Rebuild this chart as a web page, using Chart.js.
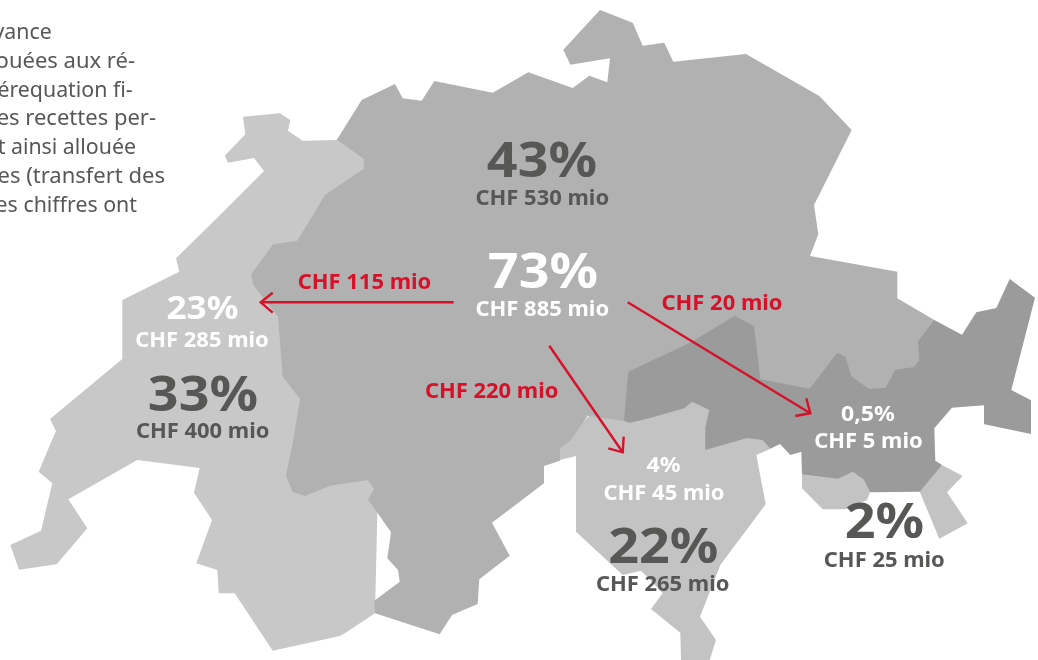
<!DOCTYPE html>
<html>
<head>
<meta charset="utf-8">
<style>
html, body { margin: 0; padding: 0; background: #fff; }
#wrap { width: 1038px; height: 660px; }
</style>
<script src="https://cdn.jsdelivr.net/npm/chart.js@4"></script>
</head>
<body>
<div id="wrap"><canvas id="map"></canvas></div>
<script>
// region outlines, in picture units
var west = [[243,116.7],[280,113.3],[290.3,120],[288,130.7],[302.7,140.7],[336.7,140],[363.3,159],[363.3,169],[380,400],[375,613.3],[346,632.5],[340,636],[272.7,650.7],[234.7,593.3],[218.7,593.3],[217.3,570],[196.3,563.3],[212,520],[194,492.7],[199.7,468],[137.3,460],[68.3,499.3],[87.3,528.3],[56.7,564.3],[19,569.7],[10.3,545],[41,530.7],[52.3,483.3],[38.7,471.7],[52,440],[56,431],[50,419],[122.3,359],[122.3,300],[179.3,271.7],[176,258.3],[215,220],[264,171],[254,158],[228,162.7],[224.7,155.7],[245.3,134.3]];
var ticino = [[600,405],[720,395],[770,420],[770,449],[756.3,455],[765.7,504.3],[720.3,565],[700,616.7],[716,640],[709.7,660],[681,660],[680.3,632.7],[651,609],[662.7,593],[641,570.7],[622.7,575],[576,531.7],[576,456],[556,461],[556,448],[570,435]];
var bregaglia = [[802,460],[870,470],[870,492],[867,500],[845.3,509.3],[822.7,509.3],[802,488.3]];
var poschiavo = [[915,480],[942,465],[962.7,476],[947,492.3],[967.7,523.3],[939.3,538.7],[919.7,491.7]];
var central = [[336.7,140],[361.7,100],[395,84],[402.7,98.3],[421.7,100.7],[434.3,81],[492.7,92.7],[528.3,72.3],[572.7,88],[589.3,75.7],[607.3,82.3],[610,58.3],[570.3,64.7],[563.3,49.7],[600,10],[632.7,22.7],[642.7,45.7],[664.3,42.7],[673.3,61.7],[746,54],[819.3,96],[851.7,130],[814,205],[818.3,234.3],[810,256],[897.3,271.7],[897.3,298.3],[934.3,320],[930,400],[700,400],[640,415],[624,421],[587.7,415.7],[570,441],[560,448],[560,460.7],[544,466],[544,483.3],[492,522.7],[509.7,555.7],[479.3,579.3],[477.7,604],[452,615],[439.7,634.3],[375,613.3],[374.3,600.7],[399.7,581.7],[398,570],[387.3,558.3],[391,532.3],[368,499.3],[374,489.3],[368,480],[330,485.7],[305,496],[292.3,491.7],[286,475],[293.3,440],[300,399],[282.7,376.7],[278,316.7],[253.3,285],[251,274.3],[273.3,244.3],[297.3,240.7],[325,195],[363.3,169],[363.3,159]];
var east = [[628.3,371.7],[691,342.3],[734.7,315.7],[754,326],[760.3,379.3],[809.7,388.7],[837.3,352.7],[845.7,357],[851,376],[869,389],[885.7,387.7],[895.3,369.7],[913.3,367.3],[919.3,360.7],[918,341],[934.3,320],[962,334.7],[976.3,312.3],[996.3,308],[1009.7,279],[1035,297.7],[1011.3,390],[1031,400.3],[1031,434],[984.3,424.3],[984,405.3],[952,407.7],[934.3,428.3],[935.3,460.7],[942,465],[919.7,491.7],[870.3,492.3],[863.7,479.3],[852.7,471.7],[838,478.7],[802,474.3],[801.3,451.7],[790.3,455],[780,444],[770.3,448.7],[762.7,440],[747,438],[705.3,450],[705.3,428],[709.3,410],[692,401.7],[684.3,408.3],[649.3,418.3],[629.7,422.7],[624,421]];

// flows between the regions
var flowWest = [[453.7,302.3],[260.7,302.3]];
var flowWestHead = [[272.7,292.7],[260.7,302.3],[272.7,312.7]];
var flowEast = [[627.7,302.3],[810.3,413.3]];
var flowEastHead = [[806.3,398.3],[810.3,413.3],[795.3,416]];
var flowSouth = [[549.3,345.7],[622.7,452.3]];
var flowSouthHead = [[623.7,436.7],[622.7,452.3],[608.3,448.3]];

// labels
var bigLabels = ["43%", "33%", "22%", "2%", "73%"];
var bigX = [542, 203, 663.3, 884.5, 543];
var bigY = [176.7, 411, 562.7, 538.3, 287.7];
var midLabels = ["23%"];
var midX = [202.5];
var midY = [319];
var smallLabels = ["4%", "0,5%"];
var smallX = [663.5, 868];
var smallY = [471.7, 421];
var amountLabels = ["CHF 530 mio", "CHF 400 mio", "CHF 265 mio", "CHF 25 mio", "CHF 885 mio", "CHF 285 mio", "CHF 45 mio", "CHF 5 mio"];
var amountX = [542.3, 202.7, 662.7, 884.3, 542.3, 202, 664, 868.5];
var amountY = [205.3, 438.3, 590.7, 566.7, 316, 346.7, 500, 448.3];
var flowLabels = ["CHF 115 mio", "CHF 20 mio", "CHF 220 mio"];
var flowX = [364.5, 722, 491.7];
var flowY = [289, 310, 397.7];
var bodyLines = ["vance", "ouées aux ré-", "érequation fi-", "es recettes per-", "t ainsi allouée", "es (transfert des", "es chiffres ont"];
var bodyX = [51.7, 135, 132.7, 156, 136, 165, 137];
var bodyY = [39.3, 68.3, 96.5, 125, 153.7, 182.7, 211.7];
var bodyStretch = [0.97, 1, 0.97, 1, 0.97, 1, 0.97];

var grey = "#575756", red = "#d5122a";

function toPoints(list) {
	var pts = [];
	for (var i = 0; i < list.length; i++) {
		pts.push({x: list[i][0], y: list[i][1]});
	}
	pts.push({x: list[0][0], y: list[0][1]});
	return pts;
}

function area(list, color) {
	return {
		data: toPoints(list),
		showLine: true,
		fill: "shape",
		backgroundColor: color,
		borderColor: color,
		borderWidth: 0,
		pointRadius: 0,
		tension: 0
	};
}

function flow(list) {
	return {
		data: list.map(function(p){ return {x: p[0], y: p[1]}; }),
		showLine: true,
		fill: false,
		borderColor: red,
		borderWidth: 2.4,
		pointRadius: 0,
		tension: 0
	};
}

// writes all the text through the scales, stretched a little to the width of the original face
var textPlugin = {
	id: "mapText",
	afterDatasetsDraw: function(chart) {
		var ctx = chart.ctx, sx = chart.scales.x, sy = chart.scales.y;
		function put(labels, xs, ys, font, color, align, stretch) {
			for (var i = 0; i < labels.length; i++) {
				ctx.save();
				ctx.font = font;
				ctx.fillStyle = color;
				ctx.textAlign = align;
				ctx.textBaseline = "alphabetic";
				ctx.translate(sx.getPixelForValue(xs[i]), sy.getPixelForValue(ys[i]));
				ctx.scale(Array.isArray(stretch) ? stretch[i] : stretch, 1);
				ctx.fillText(labels[i], 0, 0);
				ctx.restore();
			}
		}
		var face = '"Noto Sans", sans-serif';
		put(bodyLines, bodyX, bodyY, '400 22px ' + face, grey, "right", bodyStretch);
		put(bigLabels.slice(0, 4), bigX, bigY, '700 49px ' + face, grey, "center", 1.1);
		put(bigLabels.slice(4), bigX.slice(4), bigY.slice(4), '700 49px ' + face, "#fff", "center", 1.1);
		put(midLabels, midX, midY, '700 32px ' + face, "#fff", "center", 1.1);
		put(smallLabels, smallX, smallY, '700 21px ' + face, "#fff", "center", 1.1);
		put(amountLabels.slice(0, 4), amountX, amountY, '700 20.5px ' + face, grey, "center", 1.07);
		put(amountLabels.slice(4), amountX.slice(4), amountY.slice(4), '700 20.5px ' + face, "#fff", "center", 1.07);
		put(flowLabels, flowX, flowY, '700 20.5px ' + face, red, "center", 1.07);
	}
};

// the first dataset ends up on top, so the arrows come first and the palest region last
var mapChart = new Chart(document.getElementById("map").getContext("2d"), {
	type: "scatter",
	data: {
		datasets: [
			flow(flowWest), flow(flowWestHead),
			flow(flowEast), flow(flowEastHead),
			flow(flowSouth), flow(flowSouthHead),
			area(east, "#9b9b9b"),
			area(central, "#b1b1b1"),
			area(poschiavo, "#c3c3c3"),
			area(bregaglia, "#c3c3c3"),
			area(ticino, "#c3c3c3"),
			area(west, "#c8c8c8")
		]
	},
	options: {
		responsive: true,
		maintainAspectRatio: false,
		animation: false,
		layout: {padding: 0},
		plugins: {legend: {display: false}, tooltip: {enabled: false}},
		scales: {
			x: {type: "linear", min: 0, max: 1038, display: false},
			y: {type: "linear", min: 0, max: 660, reverse: true, display: false}
		}
	},
	plugins: [textPlugin]
});
</script>
</body>
</html>
